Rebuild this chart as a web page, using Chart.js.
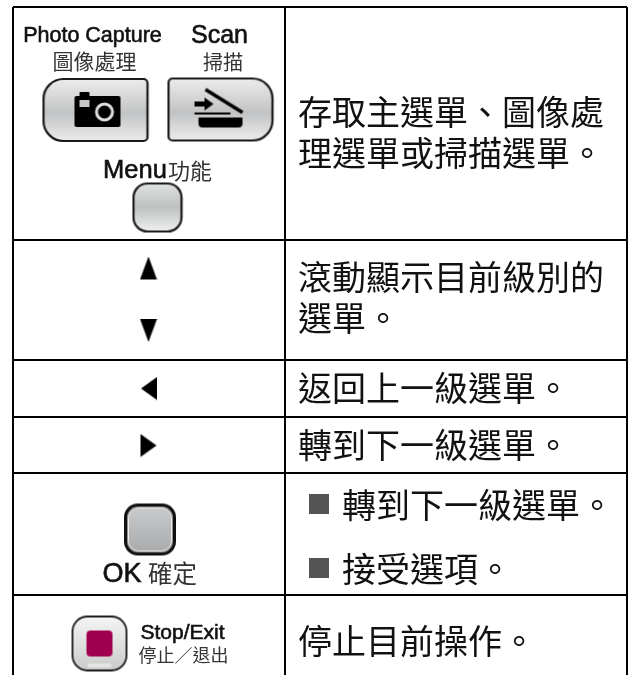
<!DOCTYPE html>
<html><head><meta charset="utf-8">
<style>html,body{margin:0;padding:0;background:#fff}canvas{display:block}</style>
<script src="https://cdn.jsdelivr.net/npm/chart.js@4"></script></head>
<body><div style="width:632px;height:675px"><canvas id="c" width="632" height="675"></canvas></div>
<script>
// table structure
const rowEdges = [7, 240, 360, 417, 473, 595];
const colEdges = [13, 285, 627];
// right column text
const descriptions = ["存取主選單、圖像處","理選單或掃描選單。","滾動顯示目前級別的","選單。","返回上一級選單。","轉到下一級選單。","轉到下一級選單。","接受選項。","停止目前操作。"];
const descY = [112,153,277,318,388,445,505,569,641];
const descX = [298,298,298,298,298,298,342,342,298];
const bulletY = [504,568];
// left column labels
const keyLabels = ["Photo Capture","Scan","圖像處理","掃描","Menu","功能","OK","確定","Stop/Exit","停止／退出"];
const keyX = [92.5,219.5,94.5,223,135,190,122,172.5,182.5,183.5];
const keyY = [36,36,61,62,171,171,575,574,633,655];
const keyFont = [21.5,25,21,20,25.5,22,27,24.5,21,18];
const keyCjk = [0,0,1,1,0,1,0,1,0,1];

const SANS='"Liberation Sans",sans-serif', CJK='"Noto Sans CJK TC",sans-serif';
function icon(w,h,fn){const c=document.createElement('canvas');c.width=w;c.height=h;fn(c.getContext('2d'),w,h);return c;}
function rr(g,x,y,w,h,r){g.beginPath();g.roundRect(x,y,w,h,r);}
function tri(pts){return (g)=>{g.fillStyle='#000';g.beginPath();pts.forEach((p,i)=>i?g.lineTo(p[0],p[1]):g.moveTo(p[0],p[1]));g.closePath();g.fill();};}
function grad(g,h,stops){const l=g.createLinearGradient(0,0,0,h);stops.forEach(s=>l.addColorStop(s[0],s[1]));return l;}

const camera=icon(108,66,(g,w,h)=>{
  rr(g,2,2,104,62,[20,4,4,20]);g.fillStyle=grad(g,h,[[0,'#efefef'],[.55,'#c2c3c4'],[1,'#f0f0f0']]);g.fill();g.lineWidth=2.2;g.strokeStyle='#1a1a1a';g.stroke();
  g.fillStyle='#000';rr(g,33,19,46,31,2);g.fill();rr(g,38,15,10,6,1);g.fill();
  g.fillStyle='#c9c9c9';g.fillRect(38,23,10,7);
  g.beginPath();g.arc(63,35,8,0,7);g.strokeStyle='#ddd';g.lineWidth=3;g.stroke();
});
const scan=icon(108,66,(g,w,h)=>{
  rr(g,2,2,104,62,[4,20,20,4]);g.fillStyle=grad(g,h,[[0,'#efefef'],[.55,'#c2c3c4'],[1,'#f0f0f0']]);g.fill();g.lineWidth=2.2;g.strokeStyle='#1a1a1a';g.stroke();
  g.strokeStyle='#000';g.lineWidth=3.5;g.beginPath();g.moveTo(39,13);g.lineTo(76,36);g.stroke();
  g.fillStyle='#000';g.fillRect(28,25,12,5);g.beginPath();g.moveTo(38,21);g.lineTo(47,27.5);g.lineTo(38,34);g.closePath();g.fill();
  g.fillRect(28,36,36,2);rr(g,32,41,44,10,[0,0,4,4]);g.fill();
});
const menuBtn=icon(52,52,(g,w,h)=>{
  rr(g,2,2,48,48,14);g.fillStyle=grad(g,h,[[0,'#e4e5e5'],[.5,'#bfc0c1'],[1,'#f4f4f4']]);g.fill();g.lineWidth=2.2;g.strokeStyle='#1a1a1a';g.stroke();
});
const okBtn=icon(56,56,(g,w,h)=>{
  rr(g,2,2,52,52,14);g.fillStyle='#111';g.fill();
  rr(g,5,5,46,46,11);g.fillStyle='#8f8f8f';g.fill();
  rr(g,6.5,6.5,43,43,10);g.fillStyle=grad(g,h,[[0,'#cdcecf'],[1,'#a6a7a8']]);g.fill();g.strokeStyle='#eee';g.lineWidth=1;g.stroke();
});
const stopBtn=icon(58,58,(g,w,h)=>{
  rr(g,2,2,54,54,15);g.fillStyle=grad(g,h,[[0,'#f6f6f6'],[.6,'#dcdcdc'],[1,'#c8c8c8']]);g.fill();g.lineWidth=1.8;g.strokeStyle='#1a1a1a';g.stroke();
  rr(g,16,16,26,26,4);g.fillStyle='#a0004f';g.fill();
  rr(g,17,49,24,4,2);g.fillStyle='#e4e4e4';g.fill();
});
const triUp=icon(18,24,tri([[9,0],[17.5,23],[0.5,23]]));
const triDown=icon(18,24,tri([[9,24],[17.5,1],[0.5,1]]));
const triLeft=icon(18,24,tri([[1,12],[17,0.5],[17,23.5]]));
const triRight=icon(18,24,tri([[17,12],[1,0.5],[1,23.5]]));
const bullet=icon(20,20,(g)=>{g.fillStyle='#555';g.fillRect(0,0,20,20);});

const marks=[[camera,95.5,110],[scan,220.5,109.5],[menuBtn,157.5,207.5],[okBtn,150,529.5],[stopBtn,99.5,643.5],
 [triUp,148.5,268.5],[triDown,148.5,330],[triLeft,149,388.5],[triRight,148.5,445.5]];
bulletY.forEach(y=>marks.push([bullet,319,y]));

const textPlugin={id:'tableText',afterDatasetsDraw(chart){
  const g=chart.ctx,X=chart.scales.x,Y=chart.scales.y;
  g.save();g.textBaseline='middle';g.fillStyle='#111';
  g.textAlign='left';g.font='34px '+CJK;
  descriptions.forEach((t,i)=>g.fillText(t,X.getPixelForValue(descX[i]),Y.getPixelForValue(descY[i])));
  g.textAlign='center';
  keyLabels.forEach((t,i)=>{
    const cjk=keyCjk[i],px=X.getPixelForValue(keyX[i]),py=Y.getPixelForValue(keyY[i]);
    g.font=keyFont[i]+'px '+(cjk?CJK:SANS);
    g.fillStyle=cjk?'#333':'#111';
    g.fillText(t,px,py);
    if(!cjk){g.strokeStyle='#111';g.lineWidth=.6;g.strokeText(t,px,py);}
  });
  g.restore();
}};

new Chart(document.getElementById('c'),{
  type:'scatter',
  data:{datasets:marks.map(m=>({data:[{x:m[1],y:m[2]}],pointStyle:m[0],pointRadius:10,pointHoverRadius:10,showLine:false}))},
  plugins:[textPlugin],
  options:{
    responsive:false,animation:false,events:[],
    layout:{autoPadding:false,padding:{left:13,top:7,right:5,bottom:0}},
    plugins:{legend:{display:false},tooltip:{enabled:false}},
    scales:{
      x:{type:'linear',min:13,max:627,
        afterBuildTicks(a){a.ticks=colEdges.map(v=>({value:v}));},
        ticks:{display:false},border:{display:false},
        grid:{color:'#000',lineWidth:2,drawTicks:false}},
      y:{type:'linear',min:7,max:675,reverse:true,
        afterBuildTicks(a){a.ticks=rowEdges.map(v=>({value:v}));},
        ticks:{display:false},border:{display:false},
        grid:{color:'#000',lineWidth:2,drawTicks:false}}
    }
  }
});
</script></body></html>
